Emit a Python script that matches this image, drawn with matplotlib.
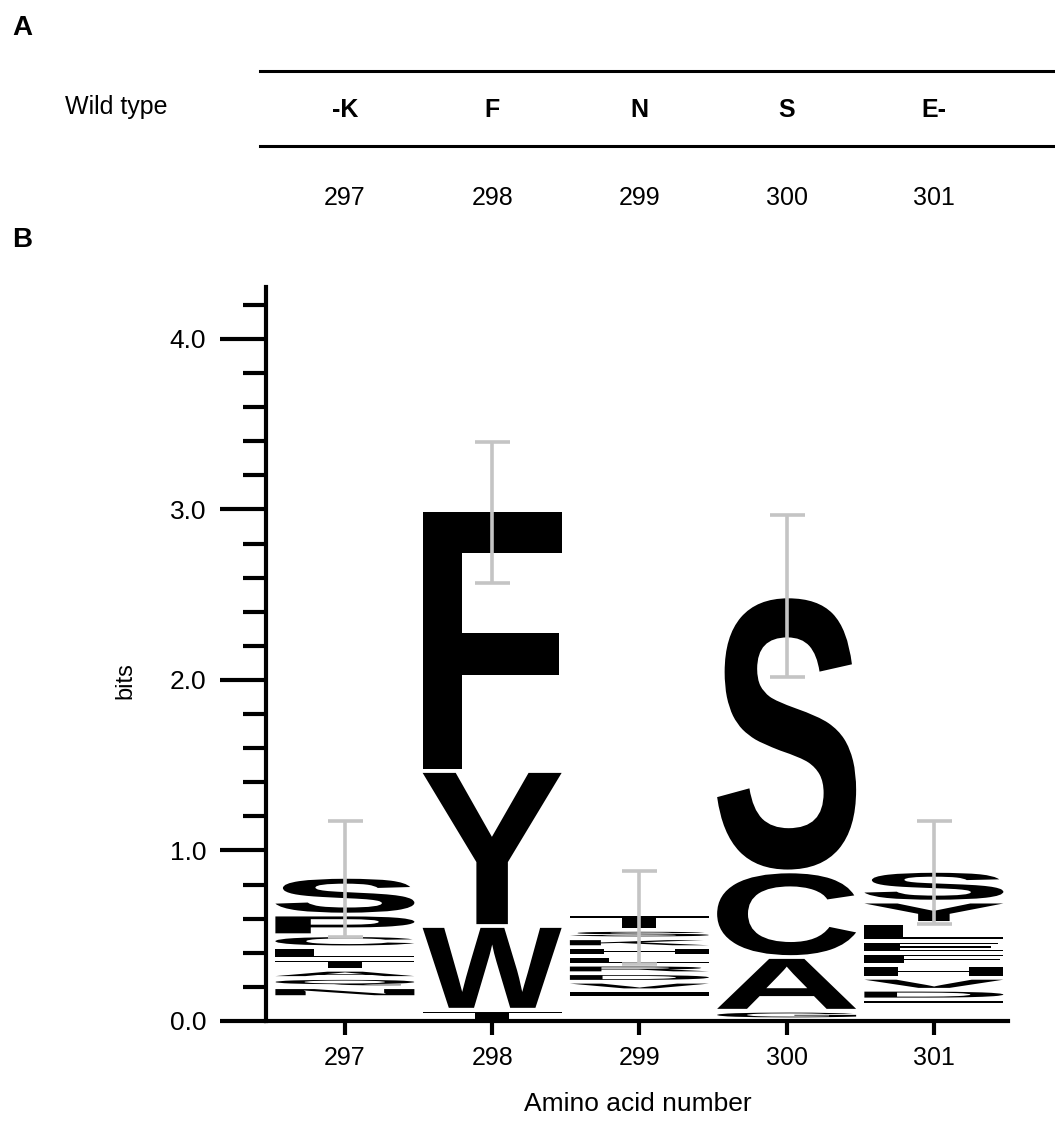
import matplotlib
matplotlib.use('Agg')
import matplotlib.pyplot as plt
import numpy as np
from matplotlib.textpath import TextPath
from matplotlib.patches import PathPatch
from matplotlib.font_manager import FontProperties
from matplotlib.transforms import Affine2D, blended_transform_factory
from matplotlib.lines import Line2D

plt.rcParams['font.family'] = ['Liberation Sans', 'DejaVu Sans']

# residue positions and wild type sequence (panel A)
positions = [297, 298, 299, 300, 301]
wild_type = ['-K', 'F', 'N', 'S', 'E-']

# logo stacks, bottom to top (bits); base = invisible part below the first visible letter
stack_base = [0.14, 0.0, 0.138, 0.01, 0.094]
letters_297 = ['N', 'Q', 'A', 'T', 'L', 'C', 'P', 'S']
heights_297 = [0.058, 0.054, 0.048, 0.064, 0.068, 0.071, 0.121, 0.221]
letters_298 = ['T', 'W', 'Y', 'F']
heights_298 = [0.066, 0.491, 0.909, 1.531]
letters_299 = ['I', 'V', 'D', 'R', 'L', 'H', 'K', 'S', 'T']
heights_299 = [0.042, 0.05, 0.05, 0.05, 0.05, 0.053, 0.052, 0.049, 0.091]
letters_300 = ['G', 'A', 'C', 'S']
heights_300 = [0.05, 0.315, 0.502, 1.613]
letters_301 = ['I', 'D', 'V', 'H', 'F', 'E', 'L', 'Y', 'S']
heights_301 = [0.032, 0.057, 0.07, 0.073, 0.072, 0.072, 0.105, 0.125, 0.18]

# error bar limits (bits)
err_low = [0.495, 2.57, 0.334, 2.02, 0.57]
err_high = [1.175, 3.395, 0.88, 2.97, 1.17]

all_letters = [letters_297, letters_298, letters_299, letters_300, letters_301]
all_heights = [heights_297, heights_298, heights_299, heights_300, heights_301]

glyph_font = FontProperties(family='Liberation Sans', weight='bold')


def draw_letter(ax, letter, x, y0, h, width=0.944, gap=0.022):
    path = TextPath((0, 0), letter, size=1, prop=glyph_font)
    ext = path.get_extents()
    gh = max(h - gap, 0.005)
    tr = (Affine2D().translate(-ext.x0, -ext.y0)
          .scale(width / ext.width, gh / ext.height)
          .translate(x - width / 2, y0 + (h - gh) / 2))
    ax.add_patch(PathPatch(tr.transform_path(path), facecolor='black',
                           edgecolor='none', lw=0, zorder=2))


fig = plt.figure(figsize=(10.55, 11.29), dpi=100)
ax = fig.add_axes([0.2521, 0.0957, 0.7033, 0.6501])

tops = []
for pos, base, lets, hs in zip(positions, stack_base, all_letters, all_heights):
    y = base
    for let, h in zip(lets, hs):
        draw_letter(ax, let, pos, y, h)
        y += h
    tops.append(y)
tops = np.array(tops)

ax.errorbar(positions, tops, yerr=[tops - np.array(err_low), np.array(err_high) - tops],
            fmt='none', ecolor='#c4c4c4', elinewidth=2.6, capsize=12.6, capthick=2.6, zorder=5)

ax.set_xlim(296.464, 301.503)
ax.set_ylim(0, 4.305)
for s in ['top', 'right']:
    ax.spines[s].set_visible(False)
for s in ['left', 'bottom']:
    ax.spines[s].set_linewidth(3)

ax.set_yticks([0, 1, 2, 3, 4])
ax.set_yticklabels(['0.0', '1.0', '2.0', '3.0', '4.0'])
ax.set_yticks(np.round(np.arange(0.2, 4.3, 0.2), 1), minor=True)
ax.set_xticks(positions)
ax.set_xticklabels([str(p) for p in positions])
ax.tick_params(axis='y', which='major', length=33, width=3, labelsize=19, pad=10)
ax.tick_params(axis='y', which='minor', length=16.5, width=3)
ax.tick_params(axis='x', which='major', length=10, width=3, labelsize=18, pad=8)

fig.text(125 / 1055, 1 - 681 / 1129, 'bits', rotation=90, ha='center', va='center', fontsize=17)
fig.text(638 / 1055, 1 - 1104 / 1129, 'Amino acid number', ha='center', va='center', fontsize=19)

# panel A: wild type sequence
trans = blended_transform_factory(ax.transData, fig.transFigure)
for pos, aa in zip(positions, wild_type):
    fig.text(pos, 1 - 110 / 1129, aa, transform=trans, ha='center', va='center',
             fontsize=18, fontweight='bold')
    fig.text(pos, 1 - 198 / 1129, str(pos), transform=trans, ha='center', va='center',
             fontsize=18)
fig.text(116 / 1055, 1 - 107 / 1129, 'Wild type', ha='center', va='center', fontsize=18)
for yl in [71, 146]:
    fig.add_artist(Line2D([260 / 1055, 1.0], [1 - yl / 1129, 1 - yl / 1129],
                          transform=fig.transFigure, color='black', lw=2.2))

fig.text(12 / 1055, 1 - 28 / 1129, 'A', fontsize=20, fontweight='bold', va='center')
fig.text(12 / 1055, 1 - 240 / 1129, 'B', fontsize=20, fontweight='bold', va='center')

fig.savefig('out.png', dpi=100)
